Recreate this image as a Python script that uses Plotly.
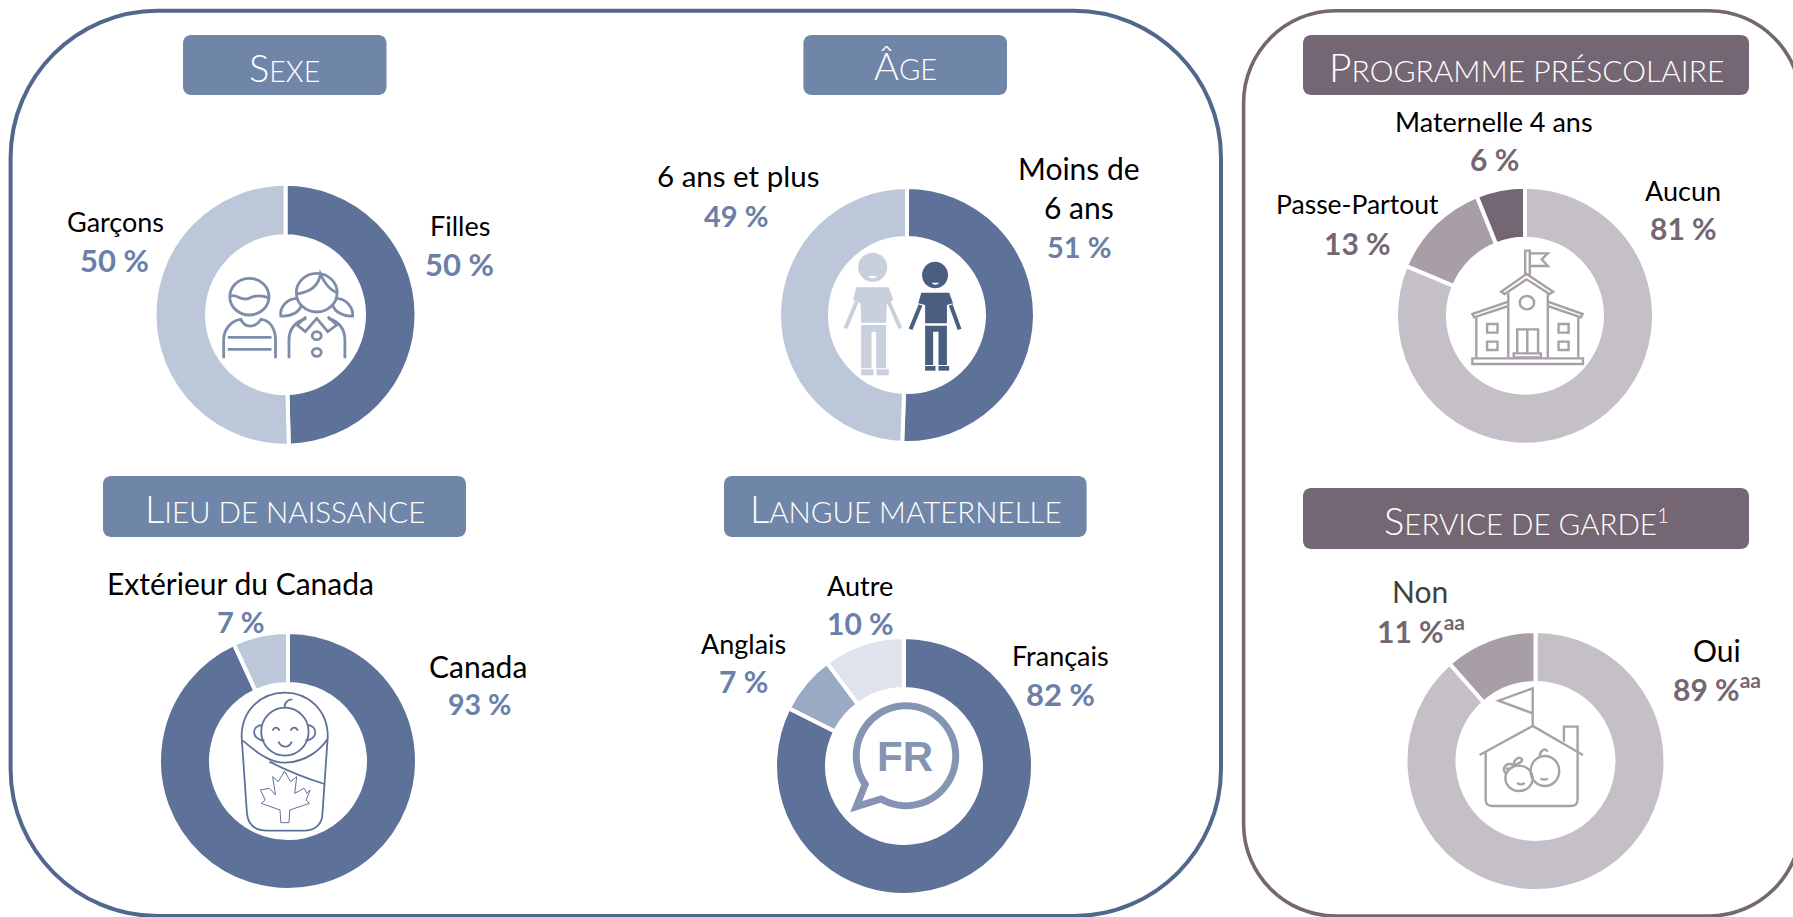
import re
import math
import plotly.graph_objects as go

W, H = 1793, 917

# ---------- data ----------
sexe_labels = ["Filles", "Garçons"]
sexe_values = [49.6, 50.4]
age_labels = ["Moins de 6 ans", "6 ans et plus"]
age_values = [50.6, 49.4]
lieu_labels = ["Canada", "Extérieur du Canada"]
lieu_values = [93.1, 6.9]
langue_labels = ["Français", "Anglais", "Autre"]
langue_values = [82.4, 7.4, 10.2]
programme_labels = ["Aucun", "Passe-Partout", "Maternelle 4 ans"]
programme_values = [81.3, 12.6, 6.1]
garde_labels = ["Oui", "Non"]
garde_values = [88.5, 11.5]

BLUE, BLUE_L, BLUE_M, BLUE_XL = "#5E7299", "#BCC7D9", "#9AAAC4", "#DEE3EC"
PURP, PURP_M, PURP_L = "#746773", "#A79EA8", "#C5BFC7"
BLUE_T = "#6A80A8"
HEAD_B = "#7086A9"

# label, centre-x, centre-y, colour-class, font size
labels_text = [
    ("Garçons", 115, 221, 0, 27), ("50 %", 114.5, 260, 1, 31),
    ("Filles", 460, 225, 0, 27), ("50 %", 459, 264, 1, 31),
    ("6 ans et plus", 738, 175, 0, 29.5), ("49 %", 736, 215, 1, 29),
    ("Moins de", 1079, 168, 0, 30), ("6 ans", 1079, 207, 0, 30), ("51 %", 1079, 246, 1, 29),
    ("Extérieur du Canada", 240, 583, 0, 30), ("7 %", 241, 621, 1, 29),
    ("Canada", 478, 666, 0, 30), ("93 %", 479.5, 704, 1, 28.5),
    ("Autre", 860, 585, 0, 27), ("10 %", 860, 623, 1, 30),
    ("Anglais", 743, 643, 0, 27), ("7 %", 743, 681, 1, 30),
    ("Français", 1060, 655, 0, 27), ("82 %", 1060, 694, 1, 31),
    ("Aucun", 1683, 190, 0, 27), ("81 %", 1683.5, 228, 2, 30),
    ("Maternelle 4 ans", 1494, 121, 0, 27), ("6 %", 1494, 159, 2, 30),
    ("Passe-Partout", 1357, 204, 0, 26.5), ("13 %", 1357, 243, 2, 30),
    ("Non", 1420, 591, 3, 30), ("11 %<sup>aa</sup>", 1421, 629, 2, 30),
    ("Oui", 1717, 650, 0, 30), ("89 %<sup>aa</sup>", 1717, 687, 2, 30),
]
# first letter, rest, box x0, x1, y0, y1, text x, y, colour, small size, big size
titles = [
    ("S", "EXE", 183, 386.5, 35, 95, 284, 67, HEAD_B, 28.5, 38),
    ("Â", "GE", 803.4, 1007, 35, 95, 905, 65, HEAD_B, 29, 38),
    ("L", "IEU DE NAISSANCE", 103, 466, 476, 537, 285, 508, HEAD_B, 29.5, 38),
    ("L", "ANGUE MATERNELLE", 724, 1086.6, 476, 537, 906, 508, HEAD_B, 29.5, 38),
    ("P", "ROGRAMME PRÉSCOLAIRE", 1303, 1749, 35, 95, 1526, 67, PURP, 30, 39),
    ("S", "ERVICE DE GARDE<sup>1</sup>", 1303, 1749, 488, 549, 1526, 520, PURP, 29.5, 38),
]
# values, colours, cx, cy, R, r
donuts = [
    (sexe_labels, sexe_values, [BLUE, BLUE_L], 285.5, 314.7, 129, 80.5),
    (age_labels, age_values, [BLUE, BLUE_L], 907, 315, 126, 79),
    (lieu_labels, lieu_values, [BLUE, BLUE_L], 288, 761, 127, 79),
    (langue_labels, langue_values, [BLUE, BLUE_M, BLUE_XL], 904, 766, 127, 79),
    (programme_labels, programme_values, [PURP_L, PURP_M, PURP], 1525, 315.7, 127, 79),
    (garde_labels, garde_values, [PURP_L, PURP_M], 1535.5, 761, 128, 80),
]

fig = go.Figure()
for lab, val, col, cx, cy, R, r in donuts:
    gap = 4
    Ro = R + gap / 2
    fig.add_trace(go.Pie(
        labels=lab, values=val, sort=False, direction="clockwise", rotation=0,
        hole=(r - gap / 2) / Ro, textinfo="none", showlegend=False,
        marker=dict(colors=col, line=dict(color="white", width=gap)),
        domain=dict(x=[(cx - Ro) / W, (cx + Ro) / W],
                    y=[1 - (cy + Ro) / H, 1 - (cy - Ro) / H]),
    ))

shapes = []


def add(path, color, width=2.0, fill=None):
    shapes.append(dict(type="path", path=path, xref="x", yref="y", layer="above",
                       line=dict(color=color if width else "rgba(0,0,0,0)", width=width),
                       fillcolor=fill if fill else "rgba(0,0,0,0)"))


def rrect(x0, x1, y0, y1, r):
    k = 0.45 * r
    return (f"M {x0+r} {y0} L {x1-r} {y0} C {x1-k} {y0} {x1} {y0+k} {x1} {y0+r} "
            f"L {x1} {y1-r} C {x1} {y1-k} {x1-k} {y1} {x1-r} {y1} "
            f"L {x0+r} {y1} C {x0+k} {y1} {x0} {y1-k} {x0} {y1-r} "
            f"L {x0} {y0+r} C {x0} {y0+k} {x0+k} {y0} {x0+r} {y0} Z")


def ell(cx, cy, rx, ry):
    k = 0.5523
    return (f"M {cx-rx} {cy} C {cx-rx} {cy-k*ry} {cx-k*rx} {cy-ry} {cx} {cy-ry} "
            f"C {cx+k*rx} {cy-ry} {cx+rx} {cy-k*ry} {cx+rx} {cy} "
            f"C {cx+rx} {cy+k*ry} {cx+k*rx} {cy+ry} {cx} {cy+ry} "
            f"C {cx-k*rx} {cy+ry} {cx-rx} {cy+k*ry} {cx-rx} {cy} Z")


def crop(path, sx, ox, oy):
    """Icon outlines were traced on crops: map crop pixels to page pixels."""
    out, i = [], 0
    for t in re.findall(r"[A-Za-z]|-?[\d.]+", path):
        if t.isalpha():
            out.append(t)
        else:
            v = float(t)
            out.append(f"{(v / sx + ox):.2f}" if i % 2 == 0 else f"{(v / 3 + oy):.2f}")
            i += 1
    return " ".join(out)


# frames
add(rrect(10.6, 1221, 10.7, 916, 147), "#51688C", 4)
add(rrect(1243.6, 1801, 10.7, 916, 92), PURP, 3.6)
for t in titles:
    add(rrect(t[2], t[3], t[4], t[5], 8), t[8], 0, t[8])

# --- children icon
c = "#7C8CA9"
f = lambda p: crop(p, 2.45, 0, 0)
for p in [ell(611, 890, 48, 55),
          "M 565 888 C 580 880 590 905 610 895 C 625 885 640 885 658 893",
          "M 548 1075 L 548 1020 C 548 985 570 960 590 958 C 600 985 625 985 640 958 C 660 960 675 985 675 1020 L 675 1075",
          "M 558 1012 L 665 1012", "M 558 1048 L 665 1048",
          ell(776, 878, 50, 58),
          "M 728 882 C 760 875 780 860 785 822 C 795 850 810 870 825 878",
          "M 730 895 C 700 895 685 925 688 948 C 715 950 735 935 738 915",
          "M 822 895 C 850 895 866 925 864 948 C 840 950 820 935 815 915",
          "M 708 1075 L 708 1020 C 708 985 725 965 750 955",
          "M 845 1075 L 845 1020 C 845 985 830 965 805 955",
          "M 750 950 L 728 975 L 748 995 L 776 955 L 803 995 L 825 975 L 803 950",
          ell(776, 1007, 11, 12), ell(776, 1057, 11, 12)]:
    add(f(p), c, 2.8)

# --- two figures icon
f = lambda p: crop(p, 2.613, 640, 0)
for col, parts, arms in [
    ("#C8D0DE",
     [ell(608, 802, 38, 44),
      "M 565 862 L 650 862 L 662 900 L 645 910 L 643 968 L 578 968 L 576 910 L 557 900 Z",
      "M 578 975 L 643 975 L 643 1105 L 617 1105 L 617 995 L 605 995 L 605 1105 L 578 1105 Z",
      "M 578 1108 L 610 1108 L 610 1126 L 578 1126 Z", "M 618 1108 L 650 1108 L 650 1126 L 618 1126 Z"],
     ["M 566 905 L 537 985", "M 650 905 L 680 985"]),
    ("#4A5E80",
     [ell(771, 825, 34, 40),
      "M 735 878 L 808 878 L 818 910 L 802 915 L 802 970 L 745 970 L 745 915 L 727 910 Z",
      "M 745 977 L 802 977 L 802 1095 L 780 1095 L 780 995 L 766 995 L 766 1095 L 745 1095 Z",
      "M 745 1098 L 772 1098 L 772 1112 L 745 1112 Z", "M 780 1098 L 808 1098 L 808 1112 L 780 1112 Z"],
     ["M 733 915 L 707 988", "M 812 915 L 835 988"]),
]:
    for p in parts:
        add(f(p), col, 0, col)
    for p in arms:
        add(f(p), col, 4)
add(f("M 596 828 C 602 838 614 838 620 828 Z"), "white", 0, "white")
add(f("M 762 848 C 766 856 776 856 782 848 Z"), "white", 0, "white")

# --- school icon
c = "#A8A0A8"
f = lambda p: crop(p, 2.785, 1230, 0)
for p in ["M 822 825 L 822 752 L 835 752 L 835 825",
          "M 835 760 L 885 760 L 868 778 L 885 798 L 835 798",
          "M 755 875 L 826 822 L 900 875 L 890 882 L 826 838 L 765 882 Z",
          "M 775 880 L 775 1072", "M 885 880 L 885 1072", ell(827, 908, 20, 20),
          "M 775 905 L 675 942 L 680 952 L 775 918", "M 885 905 L 982 942 L 977 952 L 885 918",
          "M 686 952 L 686 1072", "M 970 952 L 970 1072",
          "M 716 972 L 745 972 L 745 998 L 716 998 Z", "M 716 1025 L 745 1025 L 745 1050 L 716 1050 Z",
          "M 915 972 L 943 972 L 943 998 L 915 998 Z", "M 915 1025 L 943 1025 L 943 1050 L 915 1050 Z",
          "M 800 1060 L 800 988 L 858 988 L 858 1060", "M 828 988 L 828 1060",
          "M 790 1060 L 866 1060 L 866 1072 L 790 1072 Z",
          "M 675 1075 L 983 1075 L 983 1092 L 675 1092 Z"]:
    add(f(p), c, 2.4)

# --- baby icon
c = "#5E7299"
f = lambda p: crop(p, 2.45, 0, 460)
for p in ["M 592 830 C 592 750 640 698 698 698 C 755 698 803 750 803 830 L 790 1060 C 790 1095 770 1112 745 1112 L 655 1112 C 625 1112 608 1095 605 1060 Z",
          ell(698, 815, 58, 72),
          "M 643 795 C 615 795 615 840 648 842", "M 752 795 C 780 795 780 840 748 842",
          "M 698 745 C 695 730 705 718 716 718",
          "M 668 812 C 672 800 680 800 685 812", "M 712 812 C 716 800 725 800 730 812",
          "M 682 845 C 690 865 708 865 715 845",
          "M 595 842 C 640 890 670 910 700 908 C 750 905 785 870 802 838",
          "M 660 905 C 700 930 750 955 795 972"]:
    add(f(p), c, 1.8)
add(f("M 697 933 L 712 965 L 727 950 L 722 1000 L 745 985 L 752 1000 L 760 990 L 750 1020 L 758 1030 "
      "L 710 1050 L 708 1088 L 688 1088 L 686 1050 L 640 1030 L 650 1020 L 638 990 L 660 985 L 675 1005 "
      "L 668 950 L 682 965 Z"), c, 1)

# --- FR bubble icon
f = lambda p: crop(p, 2.613, 640, 460)
arc = [(695 + 130 * math.cos(math.radians(a)), 887 + 150 * math.sin(math.radians(a)))
       for a in range(145, 360 + 125, 5)]
bubble = "M " + " L ".join(f"{x:.1f} {y:.1f}" for x, y in arc) + " L 565 1040 Z"
add(f(bubble), "#8494B2", 7)

# --- daycare icon
c = "#A8A2A8"
f = lambda p: crop(p, 2.785, 1230, 460)
for p in ["M 843 798 L 843 685 L 748 722 L 843 760",
          "M 695 885 L 843 798 L 983 885",
          "M 930 845 L 930 800 L 968 800 L 968 870",
          "M 712 875 L 712 1020 C 712 1032 720 1038 730 1038 L 950 1038 C 960 1038 968 1032 968 1020 L 968 870",
          ell(877, 933, 40, 45), "M 862 888 C 865 870 878 862 884 875",
          ell(805, 955, 38, 38),
          "M 768 940 C 755 925 770 905 790 915 C 790 900 805 885 815 900",
          "M 768 925 C 780 930 790 920 790 915 C 800 915 812 905 815 900",
          "M 800 968 C 805 975 815 975 820 968", "M 865 955 C 870 960 880 960 885 955"]:
    add(f(p), c, 2.4)

# ---------- text ----------
ann = []
FONT = "Lato"
colors = {0: "#000000", 1: BLUE_T, 2: PURP, 3: "#404040"}
for txt, x, y, k, size in labels_text:
    bold = k in (1, 2)
    ann.append(dict(text=txt, x=x, y=y, xref="x", yref="y", showarrow=False,
                    xanchor="center", yanchor="middle",
                    font=dict(family=FONT, size=size, color=colors[k],
                              weight=700 if bold else 400)))
for big, rest, x0, x1, y0, y1, tx, ty, col, small, large in titles:
    ann.append(dict(text=f'<span style="font-size:{large}px">{big}</span>'
                         f'<span style="font-size:{small}px">{rest}</span>',
                    x=tx, y=ty, xref="x", yref="y", showarrow=False,
                    xanchor="center", yanchor="middle",
                    font=dict(family=FONT, size=small, color="white", weight=300)))
ann.append(dict(text="FR", x=905, y=756, xref="x", yref="y", showarrow=False,
                font=dict(family="Liberation Sans", size=42, color="#8494B2", weight=700)))

fig.update_layout(
    width=W, height=H, margin=dict(l=0, r=0, t=0, b=0),
    paper_bgcolor="white", plot_bgcolor="rgba(0,0,0,0)",
    xaxis=dict(range=[0, W], visible=False, fixedrange=True),
    yaxis=dict(range=[H, 0], visible=False, fixedrange=True),
    shapes=shapes, annotations=ann,
)
fig.write_html("out.html", config={"displayModeBar": False},
               post_script="document.body.style.margin='0';document.body.style.overflow='hidden';")
